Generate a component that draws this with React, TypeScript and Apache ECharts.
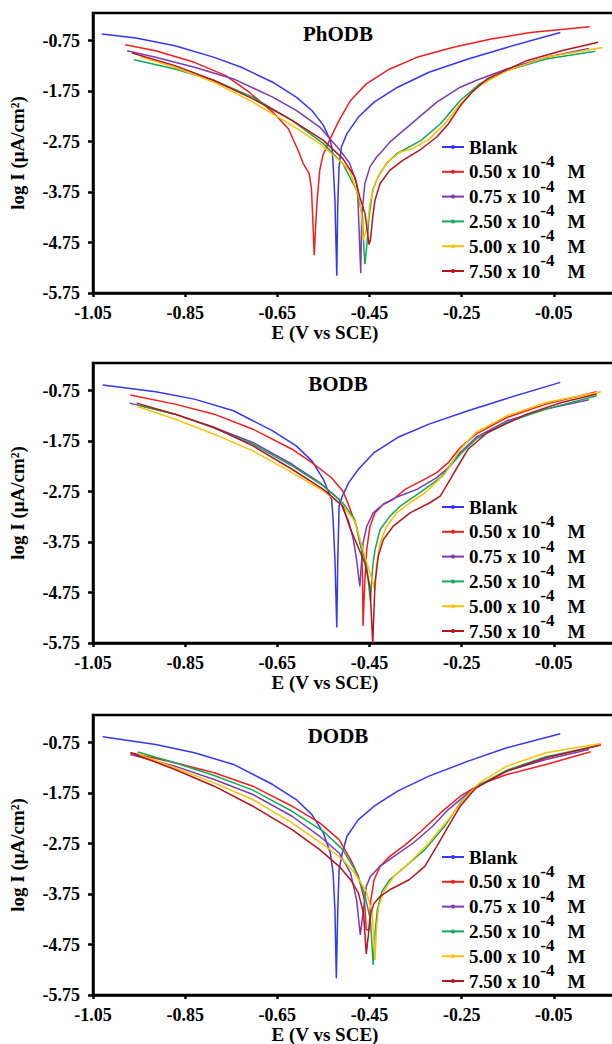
import React, { useEffect, useRef } from "react";
import * as echarts from "echarts";

// ---- Data (E in V vs SCE, log I) ----
const E_TICKS = [-1.05, -0.85, -0.65, -0.45, -0.25, -0.05];
const LOG_TICKS = [-5.75, -4.75, -3.75, -2.75, -1.75, -0.75];
const PANEL_TITLES = ["PhODB", "BODB", "DODB"];
const SERIES_NAMES = ["Blank", "0.50 x 10-4 M", "0.75 x 10-4 M", "2.50 x 10-4 M", "5.00 x 10-4 M", "7.50 x 10-4 M"];
const COLORS = ["#3535f5", "#f21d1d", "#7a3cb0", "#12a85a", "#ffc000", "#b8141c"];

// PhODB
const p1Blank = [[-1.031,-0.618],[-0.957,-0.697],[-0.872,-0.849],[-0.787,-1.079],[-0.728,-1.276],[-0.660,-1.572],[-0.609,-1.868],[-0.575,-2.132],[-0.550,-2.428],[-0.535,-2.724],[-0.531,-2.92],[-0.529,-3.18],[-0.525,-3.90],[-0.521,-5.41],[-0.519,-4.04],[-0.516,-3.25],[-0.511,-2.855],[-0.499,-2.592],[-0.474,-2.263],[-0.440,-1.967],[-0.389,-1.671],[-0.321,-1.375],[-0.236,-1.112],[-0.152,-0.882],[-0.036,-0.586]];
const p1C050 = [[-0.980,-0.829],[-0.914,-0.947],[-0.830,-1.178],[-0.762,-1.441],[-0.711,-1.770],[-0.660,-2.164],[-0.626,-2.493],[-0.605,-2.92],[-0.594,-3.18],[-0.581,-3.38],[-0.576,-3.67],[-0.573,-4.30],[-0.570,-5.00],[-0.567,-4.45],[-0.564,-3.95],[-0.558,-3.32],[-0.551,-3.02],[-0.537,-2.724],[-0.516,-2.329],[-0.491,-1.934],[-0.457,-1.605],[-0.406,-1.309],[-0.347,-1.079],[-0.270,-0.882],[-0.186,-0.717],[-0.101,-0.586],[0.028,-0.474]];
const p1C075 = [[-0.976,-0.947],[-0.914,-1.079],[-0.830,-1.276],[-0.745,-1.507],[-0.660,-1.868],[-0.609,-2.132],[-0.558,-2.461],[-0.514,-2.92],[-0.493,-3.18],[-0.478,-3.58],[-0.475,-3.91],[-0.471,-4.90],[-0.469,-5.36],[-0.467,-4.24],[-0.460,-3.58],[-0.449,-3.25],[-0.435,-3.06],[-0.421,-2.92],[-0.406,-2.76],[-0.355,-2.362],[-0.304,-1.967],[-0.253,-1.671],[-0.219,-1.539],[-0.152,-1.310],[-0.067,-1.079],[0.026,-0.901]];
const p1C250 = [[-0.961,-1.125],[-0.872,-1.309],[-0.787,-1.539],[-0.703,-1.868],[-0.618,-2.329],[-0.550,-2.789],[-0.508,-3.184],[-0.478,-3.71],[-0.465,-4.24],[-0.462,-4.90],[-0.460,-5.18],[-0.456,-4.83],[-0.451,-4.24],[-0.443,-3.71],[-0.432,-3.46],[-0.413,-3.18],[-0.391,-2.99],[-0.338,-2.724],[-0.296,-2.395],[-0.253,-1.934],[-0.211,-1.605],[-0.152,-1.342],[-0.067,-1.112],[0.040,-0.96]];
const p1C500 = [[-0.947,-1.066],[-0.872,-1.276],[-0.787,-1.572],[-0.703,-1.967],[-0.618,-2.428],[-0.558,-2.789],[-0.516,-3.118],[-0.493,-3.32],[-0.471,-3.91],[-0.465,-4.44],[-0.464,-4.70],[-0.455,-4.44],[-0.449,-3.97],[-0.438,-3.58],[-0.424,-3.32],[-0.406,-3.12],[-0.384,-2.96],[-0.355,-2.88],[-0.321,-2.70],[-0.287,-2.40],[-0.253,-2.00],[-0.211,-1.638],[-0.152,-1.342],[-0.067,-1.079],[0.056,-0.882]];
const p1C750 = [[-0.965,-0.993],[-0.872,-1.243],[-0.787,-1.539],[-0.703,-1.901],[-0.618,-2.329],[-0.550,-2.724],[-0.508,-3.086],[-0.482,-3.447],[-0.471,-3.85],[-0.460,-4.17],[-0.455,-4.50],[-0.451,-4.79],[-0.448,-4.70],[-0.443,-4.24],[-0.438,-3.91],[-0.427,-3.58],[-0.406,-3.32],[-0.378,-3.12],[-0.341,-2.92],[-0.304,-2.658],[-0.279,-2.40],[-0.253,-2.04],[-0.228,-1.770],[-0.194,-1.500],[-0.109,-1.145],[-0.033,-0.947],[0.046,-0.78]];

// BODB
const p2Blank = [[-1.029,-0.637],[-0.914,-0.770],[-0.830,-0.916],[-0.745,-1.147],[-0.660,-1.545],[-0.609,-1.843],[-0.575,-2.140],[-0.550,-2.505],[-0.537,-2.80],[-0.532,-2.905],[-0.529,-3.30],[-0.525,-4.10],[-0.521,-5.44],[-0.519,-4.20],[-0.516,-3.035],[-0.509,-2.836],[-0.495,-2.571],[-0.474,-2.306],[-0.440,-1.975],[-0.389,-1.677],[-0.321,-1.412],[-0.236,-1.147],[-0.152,-0.902],[-0.036,-0.584]];
const p2C050 = [[-0.969,-0.836],[-0.872,-1.015],[-0.787,-1.214],[-0.703,-1.512],[-0.618,-1.909],[-0.575,-2.174],[-0.533,-2.47],[-0.508,-2.737],[-0.500,-2.905],[-0.478,-3.44],[-0.467,-3.90],[-0.465,-4.50],[-0.464,-5.41],[-0.460,-4.50],[-0.456,-3.90],[-0.449,-3.44],[-0.438,-3.17],[-0.420,-3.00],[-0.399,-2.905],[-0.372,-2.70],[-0.338,-2.54],[-0.304,-2.373],[-0.279,-2.174],[-0.253,-1.876],[-0.219,-1.611],[-0.152,-1.280],[-0.067,-1.015],[0.043,-0.770]];
const p2C075 = [[-0.971,-0.995],[-0.872,-1.214],[-0.787,-1.478],[-0.703,-1.776],[-0.618,-2.207],[-0.558,-2.571],[-0.516,-2.902],[-0.495,-3.35],[-0.485,-3.70],[-0.478,-4.10],[-0.471,-4.63],[-0.467,-4.10],[-0.464,-3.77],[-0.456,-3.44],[-0.442,-3.17],[-0.420,-3.00],[-0.389,-2.85],[-0.347,-2.704],[-0.304,-2.472],[-0.279,-2.273],[-0.253,-1.975],[-0.219,-1.677],[-0.152,-1.346],[-0.067,-1.114],[0.026,-0.929]];
const p2C250 = [[-0.953,-1.035],[-0.872,-1.214],[-0.787,-1.49],[-0.703,-1.810],[-0.618,-2.240],[-0.550,-2.637],[-0.508,-2.969],[-0.482,-3.30],[-0.471,-3.77],[-0.456,-4.23],[-0.448,-4.91],[-0.443,-4.23],[-0.438,-3.90],[-0.427,-3.50],[-0.406,-3.24],[-0.384,-3.04],[-0.362,-2.905],[-0.330,-2.70],[-0.296,-2.472],[-0.253,-2.008],[-0.219,-1.710],[-0.152,-1.379],[-0.067,-1.114],[0.043,-0.849]];
const p2C500 = [[-0.953,-1.061],[-0.872,-1.313],[-0.787,-1.611],[-0.703,-1.942],[-0.618,-2.373],[-0.550,-2.737],[-0.508,-3.035],[-0.482,-3.333],[-0.464,-3.90],[-0.449,-4.36],[-0.438,-4.70],[-0.435,-4.23],[-0.427,-3.77],[-0.413,-3.44],[-0.391,-3.17],[-0.362,-2.97],[-0.330,-2.78],[-0.287,-2.406],[-0.253,-1.909],[-0.219,-1.578],[-0.152,-1.247],[-0.067,-0.982],[0.052,-0.770]];
const p2C750 = [[-0.955,-0.995],[-0.872,-1.214],[-0.787,-1.478],[-0.703,-1.843],[-0.618,-2.306],[-0.550,-2.704],[-0.508,-3.035],[-0.493,-3.45],[-0.460,-4.17],[-0.449,-4.63],[-0.443,-5.75],[-0.438,-4.56],[-0.431,-4.03],[-0.420,-3.70],[-0.399,-3.44],[-0.362,-3.17],[-0.319,-2.97],[-0.296,-2.836],[-0.279,-2.571],[-0.262,-2.306],[-0.236,-1.909],[-0.194,-1.578],[-0.109,-1.214],[-0.033,-0.982],[0.043,-0.816]];

// DODB
const p3Blank = [[-1.029,-0.631],[-0.914,-0.783],[-0.830,-0.949],[-0.745,-1.180],[-0.660,-1.578],[-0.609,-1.876],[-0.575,-2.174],[-0.550,-2.538],[-0.535,-2.935],[-0.529,-3.333],[-0.525,-4.061],[-0.522,-5.419],[-0.519,-4.127],[-0.516,-3.267],[-0.509,-2.935],[-0.499,-2.604],[-0.474,-2.273],[-0.440,-2.008],[-0.389,-1.710],[-0.321,-1.412],[-0.236,-1.114],[-0.152,-0.849],[-0.036,-0.571]];
const p3C050 = [[-0.969,-0.949],[-0.872,-1.147],[-0.787,-1.346],[-0.703,-1.611],[-0.618,-2.008],[-0.558,-2.339],[-0.516,-2.671],[-0.491,-3.068],[-0.474,-3.399],[-0.461,-3.863],[-0.457,-4.459],[-0.451,-4.459],[-0.447,-3.863],[-0.440,-3.465],[-0.427,-3.200],[-0.406,-3.002],[-0.372,-2.770],[-0.338,-2.505],[-0.296,-2.141],[-0.253,-1.810],[-0.211,-1.578],[-0.152,-1.379],[-0.067,-1.180],[0.030,-0.929]];
const p3C075 = [[-0.969,-0.982],[-0.872,-1.214],[-0.787,-1.478],[-0.703,-1.776],[-0.618,-2.207],[-0.558,-2.604],[-0.516,-2.935],[-0.491,-3.333],[-0.478,-3.863],[-0.470,-4.558],[-0.464,-4.127],[-0.457,-3.598],[-0.448,-3.399],[-0.427,-3.200],[-0.397,-3.002],[-0.355,-2.737],[-0.313,-2.406],[-0.279,-2.075],[-0.236,-1.743],[-0.194,-1.512],[-0.152,-1.313],[-0.067,-1.081],[0.026,-0.882]];
const p3C250 = [[-0.953,-0.935],[-0.872,-1.147],[-0.787,-1.399],[-0.703,-1.690],[-0.618,-2.108],[-0.550,-2.505],[-0.508,-2.869],[-0.482,-3.267],[-0.461,-3.730],[-0.448,-4.260],[-0.442,-5.154],[-0.438,-4.525],[-0.433,-4.061],[-0.423,-3.697],[-0.406,-3.465],[-0.372,-3.200],[-0.330,-2.869],[-0.287,-2.406],[-0.253,-1.942],[-0.219,-1.624],[-0.152,-1.293],[-0.067,-1.028],[0.043,-0.816]];
const p3C500 = [[-0.950,-0.982],[-0.872,-1.247],[-0.787,-1.545],[-0.703,-1.876],[-0.618,-2.339],[-0.550,-2.770],[-0.508,-3.068],[-0.482,-3.333],[-0.457,-3.697],[-0.444,-4.127],[-0.438,-5.055],[-0.435,-4.459],[-0.430,-3.995],[-0.419,-3.697],[-0.397,-3.399],[-0.364,-3.134],[-0.321,-2.737],[-0.279,-2.273],[-0.245,-1.876],[-0.211,-1.545],[-0.152,-1.214],[-0.067,-0.949],[0.052,-0.763]];
const p3C750 = [[-0.968,-0.949],[-0.872,-1.280],[-0.787,-1.611],[-0.703,-2.008],[-0.618,-2.472],[-0.558,-2.869],[-0.516,-3.200],[-0.491,-3.465],[-0.474,-3.730],[-0.463,-4.127],[-0.457,-4.935],[-0.452,-4.525],[-0.447,-4.127],[-0.440,-3.929],[-0.427,-3.796],[-0.406,-3.664],[-0.364,-3.465],[-0.330,-3.200],[-0.304,-2.803],[-0.279,-2.406],[-0.253,-2.008],[-0.219,-1.644],[-0.152,-1.313],[-0.067,-1.048],[0.052,-0.796]];

const PANEL_DATA = [
  [p1Blank, p1C050, p1C075, p1C250, p1C500, p1C750],
  [p2Blank, p2C050, p2C075, p2C250, p2C500, p2C750],
  [p3Blank, p3C050, p3C075, p3C250, p3C500, p3C750],
];

const FONT = '"Liberation Serif", "Times New Roman", serif';
const GRID_TOPS = [13, 363, 715];
const GRID_H = 280;
const GRID_LEFT = 93;
const GRID_W = 553;
const LEGEND_LH = 38;
const LEGEND_CENTERS = [147, 507, 857];

function legendFormatter(name: string) {
  if (name === "Blank") return "{a|Blank}";
  const c = name.split(" ")[0];
  return `{a|${c} x 10}{s|-4}{m|M}`;
}

function buildOption() {
  const grid: any[] = [];
  const xAxis: any[] = [];
  const yAxis: any[] = [];
  const series: any[] = [];
  const legend: any[] = [];
  const graphic: any[] = [];

  for (let p = 0; p < 3; p++) {
    grid.push({
      left: GRID_LEFT,
      top: GRID_TOPS[p],
      width: GRID_W,
      height: GRID_H,
      show: true,
      borderColor: "#000",
      borderWidth: 2.5,
      backgroundColor: "transparent",
      containLabel: false,
    });
    xAxis.push({
      type: "value",
      gridIndex: p,
      min: -1.05,
      max: 0.15,
      axisLine: { show: true, onZero: false, lineStyle: { color: "#000", width: 2.5 } },
      axisTick: { show: true, customValues: E_TICKS, length: 4, lineStyle: { color: "#000", width: 2.5 } },
      axisLabel: {
        customValues: E_TICKS,
        formatter: (v: number) => v.toFixed(2),
        fontFamily: FONT,
        fontWeight: "bold",
        fontSize: 18,
        color: "#000",
        margin: 11,
      },
      splitLine: { show: false },
    });
    yAxis.push({
      type: "value",
      gridIndex: p,
      min: -5.75,
      max: -0.2,
      name: "log I (μA/cm²)",
      nameLocation: "middle",
      nameGap: 66,
      nameTextStyle: { fontFamily: FONT, fontWeight: "bold", fontSize: 19, color: "#000" },
      axisLine: { show: true, onZero: false, lineStyle: { color: "#000", width: 2.5 } },
      axisTick: { show: true, customValues: LOG_TICKS, length: 5, lineStyle: { color: "#000", width: 2.5 } },
      axisLabel: {
        customValues: LOG_TICKS,
        formatter: (v: number) => v.toFixed(2),
        fontFamily: FONT,
        fontWeight: "bold",
        fontSize: 18,
        color: "#000",
        margin: 13,
      },
      splitLine: { show: false },
    });
    PANEL_DATA[p].forEach((d, i) => {
      series.push({
        type: "line",
        name: SERIES_NAMES[i],
        xAxisIndex: p,
        yAxisIndex: p,
        data: d,
        symbol: "circle",
        symbolSize: 3,
        showSymbol: false,
        lineStyle: { width: 1.5, color: COLORS[i] },
        itemStyle: { color: COLORS[i] },
        z: 2 + i,
      });
    });
    legend.push({
      orient: "vertical",
      left: 441,
      top: LEGEND_CENTERS[p] - LEGEND_LH / 2,
      padding: 0,
      itemWidth: 22,
      itemHeight: 5,
      itemGap: 24.8 - LEGEND_LH,
      selectedMode: false,
      data: SERIES_NAMES,
      formatter: legendFormatter,
      textStyle: {
        fontFamily: FONT,
        fontWeight: "bold",
        fontSize: 19,
        color: "#000",
        lineHeight: LEGEND_LH,
        rich: {
          a: { fontFamily: FONT, fontWeight: "bold", fontSize: 19, color: "#000", lineHeight: LEGEND_LH },
          s: { fontFamily: FONT, fontWeight: "bold", fontSize: 17, color: "#000", verticalAlign: "top" },
          m: { fontFamily: FONT, fontWeight: "bold", fontSize: 19, color: "#000", padding: [0, 0, 0, 13] },
        },
      },
    });
    graphic.push({
      type: "text",
      x: 338,
      y: GRID_TOPS[p] + 21,
      style: {
        text: PANEL_TITLES[p],
        fontFamily: FONT,
        fontWeight: "bold",
        fontSize: 21,
        fill: "#000",
        align: "center",
        verticalAlign: "middle",
      },
    });
    graphic.push({
      type: "text",
      x: 325,
      y: GRID_TOPS[p] + GRID_H + 39,
      style: {
        text: "E (V vs SCE)",
        fontFamily: FONT,
        fontWeight: "bold",
        fontSize: 19,
        fill: "#000",
        align: "center",
        verticalAlign: "middle",
      },
    });
  }

  return {
    animation: false,
    backgroundColor: "#fff",
    grid,
    xAxis,
    yAxis,
    series,
    legend,
    graphic,
  };
}

export default function App() {
  const ref = useRef<HTMLDivElement>(null);
  useEffect(() => {
    if (!ref.current) return;
    const chart = echarts.init(ref.current, null, { renderer: "svg" });
    chart.setOption(buildOption() as any);
    return () => chart.dispose();
  }, []);
  return (
    <div
      style={{
        position: "fixed",
        left: 0,
        top: 0,
        width: 612,
        height: 1044,
        overflow: "hidden",
        background: "#fff",
      }}
    >
      <div ref={ref} style={{ width: 700, height: 1044 }} />
    </div>
  );
}
